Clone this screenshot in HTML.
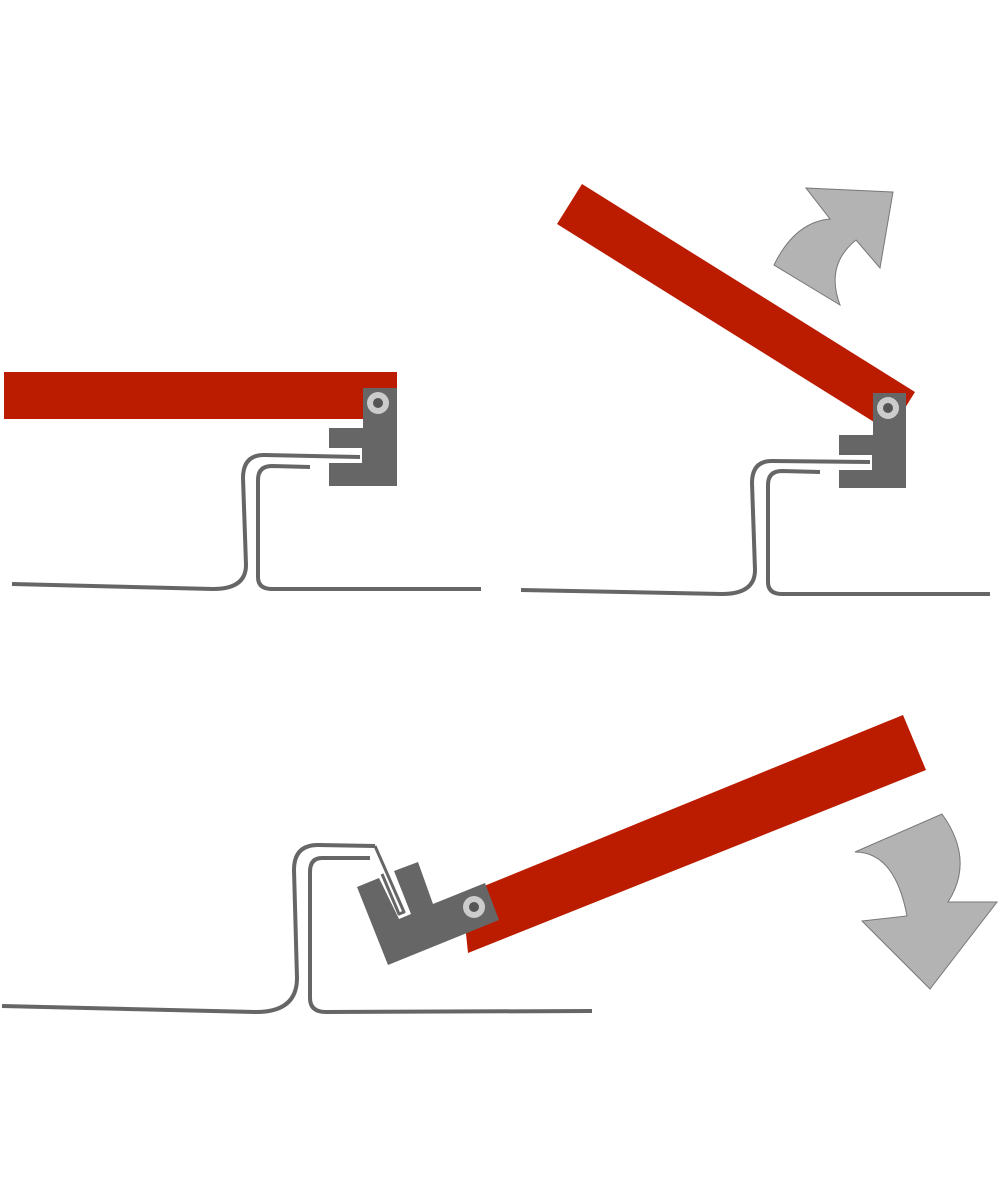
<!DOCTYPE html>
<html><head><style>body{margin:0;background:#fff}svg{display:block}</style></head>
<body>
<svg width="1000" height="1200" viewBox="0 0 1000 1200" xmlns="http://www.w3.org/2000/svg">
<g fill="none" stroke="#666" stroke-width="4" stroke-linejoin="round">
<!-- panel 1 -->
<path d="M12,584 L213,589 Q246,589 246,565 L243,478 Q243,455 264,455 L360,457"/>
<path d="M310,467 L272,466 Q258,466 258,480 L258,577 Q258,589 272,589 L481,589"/>
<!-- panel 2 -->
<path d="M521,590 L722,594 Q755,594 755,570 L752,483 Q752,461 772,461 L870,462"/>
<path d="M820,472 L782,471 Q768,471 768,485 L768,582 Q768,594 782,594 L990,594"/>
<!-- panel 3 -->
<path d="M2,1006 L256,1012 Q297,1012 297,978 L294,870 Q294,845 318,845 L375,846"/>
<path d="M370,858 L322,858 Q310,858 310,872 L310,998 Q310,1012 326,1012 L592,1011"/>
</g>
<!-- panel 1 -->
<rect x="4" y="372" width="393" height="47" fill="#bb1c00"/>
<path d="M363,388 H397 V486 H329 V463 H362 V448 H329 V428 H363 Z" fill="#666"/>
<circle cx="378" cy="403" r="11" fill="#ccc"/><circle cx="378" cy="403" r="5" fill="#555"/>
<!-- panel 2 -->
<polygon points="557,224 582,184 915,392 890,432" fill="#bb1c00"/>
<path d="M873,393 H906 V488 H839 V470 H872 V455 H839 V435 H873 Z" fill="#666"/>
<circle cx="888" cy="408" r="11" fill="#ccc"/><circle cx="888" cy="408" r="5" fill="#555"/>
<path d="M806,188 L893,192 L880,268 L856,240 Q825,265 840,305 L774,265 Q795,222 830,219 Z" fill="#b3b3b3" stroke="#777" stroke-width="1"/>
<!-- panel 3 -->
<polygon points="462,895 903,715 926,770 468,953" fill="#bb1c00"/>
<polygon points="357,887 379,878 399,919 411,914 394,871 418,862 433,904 485,883 499,920 388,965" fill="#666"/>
<path d="M375,846 L404,912 L399,914 L382,874" fill="none" stroke="#666" stroke-width="3" stroke-linejoin="round"/>
<circle cx="474" cy="907" r="11" fill="#ccc"/><circle cx="474" cy="907" r="5" fill="#555"/>
<path d="M855,852 L942,814 Q975,860 948,902 L997,902 L930,989 L862,921 L907,916 Q895,852 855,852 Z" fill="#b3b3b3" stroke="#777" stroke-width="1"/>
</svg>
</body></html>
